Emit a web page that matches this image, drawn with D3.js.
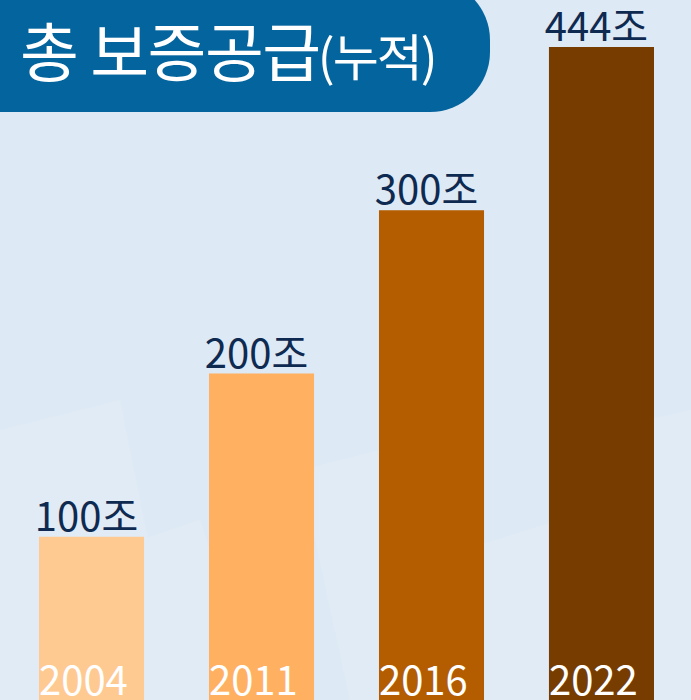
<!DOCTYPE html>
<html><head><meta charset="utf-8">
<script src="https://cdn.jsdelivr.net/npm/d3@7"></script>
<style>html,body{margin:0;padding:0;background:#dde9f5;overflow:hidden}svg{display:block}</style>
</head><body>
<script>
// ---- data ----
const years = ["2004", "2011", "2016", "2022"];
const values = [100, 200, 300, 444];
const valueLabels = ["100조", "200조", "300조", "444조"];
const barColors = ["#ffc992", "#ffb061", "#b45c00", "#773c00"];
const title = "총 보증공급";
const titleSub = "(누적)";

const W = 691, H = 700;
const svg = d3.select("body").append("svg").attr("width", W).attr("height", H);

// background
svg.append("rect").attr("width", W).attr("height", H).attr("fill", "#dde9f5");
// faint diagonal texture in lower area
const tex = svg.append("g").attr("fill", "#ffffff").attr("opacity", 0.12);
[[0,430,120,400,180,700,0,700],[80,560,200,520,260,700,120,700],[300,470,420,440,470,700,350,700],
 [430,560,560,520,610,700,480,700],[600,430,691,410,691,700,650,700],[0,600,60,580,90,700,0,700]]
 .forEach(p => tex.append("polygon").attr("points", p.join(",")));

// title box
svg.append("rect").attr("x", -60).attr("y", -20).attr("width", 550).attr("height", 132)
  .attr("rx", 60).attr("fill", "#04649e");
const t = svg.append("text").attr("x", 20).attr("y", 76).attr("fill", "#ffffff")
  .style("font-family", "'Noto Sans CJK KR', sans-serif");
t.append("tspan").text(title).style("font-size", "64px").style("letter-spacing", "-1.5px");
t.append("tspan").text(titleSub).style("font-size", "50px").style("letter-spacing", "-2px").attr("dx", -2);

// scales
const x = d3.scaleBand().domain(years).range([39, 654]).paddingInner(0.382).paddingOuter(0);
// bars are drawn on an evenly stepped scale; the 444 bar is clamped at the 400 level as in the source
const y = d3.scaleLinear().domain([0, 400]).range([H, 47]).clamp(true);

const data = years.map((yr, i) => ({yr, v: values[i], label: valueLabels[i], c: barColors[i]}));

svg.selectAll("rect.bar").data(data).enter().append("rect").attr("class", "bar")
  .attr("x", d => x(d.yr)).attr("width", x.bandwidth())
  .attr("y", d => y(d.v)).attr("height", d => H - y(d.v))
  .attr("fill", d => d.c);

svg.selectAll("text.val").data(data).enter().append("text").attr("class", "val")
  .attr("x", d => x(d.yr) + x.bandwidth() / 2 - 5).attr("y", d => y(d.v) - 6)
  .attr("text-anchor", "middle").attr("fill", "#0f2a50")
  .style("font-family", "'Noto Sans CJK KR', sans-serif").style("font-size", "40px")
  .text(d => d.label);

svg.selectAll("text.yr").data(data).enter().append("text").attr("class", "yr")
  .attr("x", d => x(d.yr)).attr("y", 695)
  .attr("fill", "#ffffff")
  .style("font-family", "'Noto Sans CJK KR', sans-serif").style("font-size", "40px")
  .text(d => d.yr);
</script>
</body></html>
